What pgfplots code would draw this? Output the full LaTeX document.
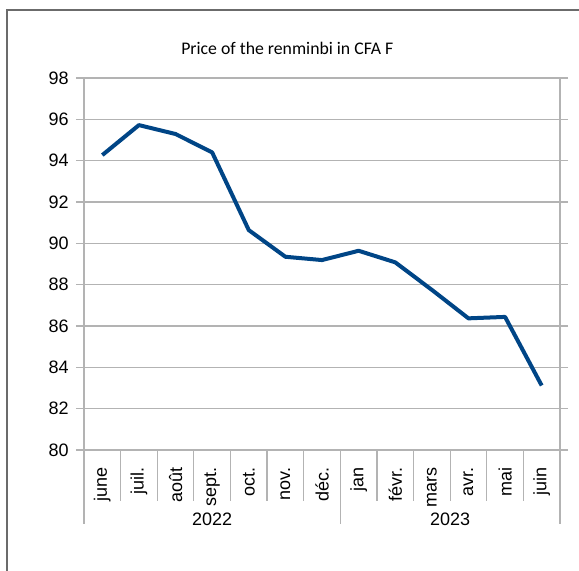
\documentclass[border=0pt]{standalone}
\usepackage{fontspec}
\setmainfont{Liberation Sans}
\newfontfamily\titlefont{Carlito}
\usepackage{pgfplots}
\pgfplotsset{compat=1.18}
\definecolor{lineblue}{HTML}{004586}
\definecolor{gridgray}{HTML}{B3B3B3}
\definecolor{framegray}{HTML}{6B6B6B}

\begin{document}
\begin{tikzpicture}
% 1 px of the reference = 0.75pt
\useasboundingbox (0,0) rectangle (434.25pt,428.25pt);
% outer frame (only top and left visible)
\draw[framegray, line width=1.2pt] (5.25pt,0) -- (5.25pt,420.75pt) -- (434.25pt,420.75pt);
\node[font=\titlefont\fontsize{13.3}{15}\selectfont] at (215.5pt,392.25pt) {Price of the renminbi in CFA F};

\begin{axis}[
    at={(63pt,90.75pt)}, anchor=south west,
    scale only axis,
    width=357pt, height=279pt,
    xmin=-0.5, xmax=12.5,
    ymin=80, ymax=98,
    ytick={80,82,...,98},
    xtick={0,...,12},
    xticklabels={june,juil.,août,sept.,oct.,nov.,déc.,jan,févr.,mars,avr.,mai,juin},
    xtick style={draw=none},
    ytick style={gridgray, line width=0.9pt},
    tick align=outside,
    major tick length=6pt,
    ymajorgrids,
    grid style={gridgray, line width=0.9pt},
    axis line style={gridgray, line width=0.9pt},
    tick label style={font=\fontsize{13.5}{16}\selectfont},
    /pgf/number format/assume math mode=true,
    yticklabel style={xshift=-2pt},
    xticklabel style={rotate=90, anchor=east, xshift=-3.75pt},
    clip=false,
]
\addplot[lineblue, line width=3pt, line join=round] coordinates {
    (0,94.27) (1,95.72) (2,95.29) (3,94.40) (4,90.64) (5,89.35) (6,89.19)
    (7,89.64) (8,89.08) (9,87.75) (10,86.37) (11,86.44) (12,83.12)
};
% category separators
\pgfplotsinvokeforeach{0.5,1.5,2.5,3.5,4.5,5.5,7.5,8.5,9.5,10.5,11.5}{
    \draw[gridgray, line width=0.9pt] (axis cs:#1,80) -- ++(0pt,-38.25pt);
}
\pgfplotsinvokeforeach{-0.5,6.5,12.5}{
    \draw[gridgray, line width=0.9pt] (axis cs:#1,80) -- ++(0pt,-55.5pt);
}
\node[font=\fontsize{13.5}{16}\selectfont] at ([yshift=-51.75pt]axis cs:3,80) {2022};
\node[font=\fontsize{13.5}{16}\selectfont] at ([yshift=-51.75pt]axis cs:9.5,80) {2023};
\end{axis}
\end{tikzpicture}
\end{document}
